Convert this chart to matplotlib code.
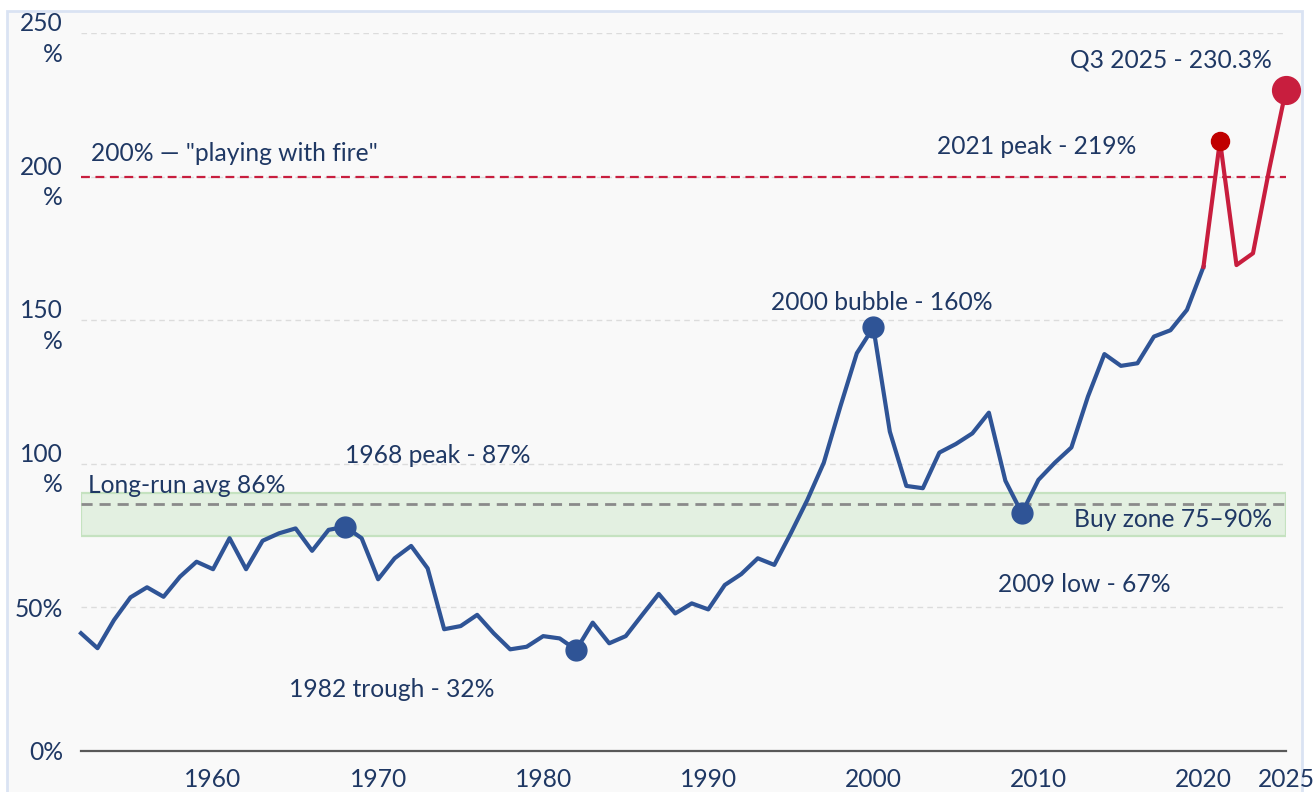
import matplotlib
matplotlib.use("Agg")
import matplotlib.pyplot as plt
from matplotlib.patches import Rectangle

plt.rcParams['font.family'] = ['Lato', 'DejaVu Sans']

years = list(range(1952, 2026))
ratio = [41.0, 35.8, 45.6, 53.5, 57.0, 53.7, 60.7, 65.9, 63.3, 74.1,
         63.3, 73.2, 75.8, 77.5, 69.7, 77.0, 78.1, 74.1, 59.8, 67.1,
         71.4, 63.6, 42.4, 43.5, 47.4, 41.0, 35.4, 36.3, 40.0, 39.2,
         35.2, 44.7, 37.5, 40.0, 47.4, 54.7, 47.9, 51.4, 49.3, 57.8,
         61.6, 67.1, 64.8, 75.8, 87.4, 100.4, 119.9, 138.5, 147.5, 111.2,
         92.3, 91.5, 103.9, 106.9, 110.6, 117.8, 94.1, 82.8, 94.4, 100.4,
         105.7, 123.4, 138.2, 134.1, 135.0, 144.3, 146.5, 153.6, 168.6, 212.5,
         169.2, 173.3, 203.0, 230.3]
split_year = 2020

yticks = [0, 50, 100, 150, 200, 250]
ytick_labels = ["0%", "50%", "100\n%", "150\n%", "200\n%", "250\n%"]
xticks = [1960, 1970, 1980, 1990, 2000, 2010, 2020, 2025]

danger_level = 200
long_run_avg = 86
buy_zone = (75, 90)

highlights = [(1968, "1968 peak - 87%"), (1982, "1982 trough - 32%"),
              (2000, "2000 bubble - 160%"), (2009, "2009 low - 67%")]

navy = "#1f3864"
blue = "#2f5496"
red = "#c81e3e"

fig = plt.figure(figsize=(13.16, 7.92), dpi=100)
fig.patch.set_facecolor("white")
panel = Rectangle((7/1316, -0.05), (1302-7)/1316, 1.05 - 11/792,
                  transform=fig.transFigure, facecolor="#f9f9f9",
                  edgecolor="#dae3f3", lw=2, zorder=-10)
fig.patches.append(panel)

ax = fig.add_axes([81/1316, 1-751/792, (1286-81)/1316, (751-33)/792])
ax.set_zorder(1)
ax.set_facecolor("none")
ax.set_xlim(1952, 2025)
ax.set_ylim(0, 250)

for s in ["top", "right", "left"]:
    ax.spines[s].set_visible(False)
ax.spines["bottom"].set_color("#595959")
ax.spines["bottom"].set_linewidth(1.6)

fs = 17.7
ax.set_yticks(yticks)
ax.set_yticklabels(ytick_labels, linespacing=1.4)
ax.set_xticks(xticks)
ax.set_xticklabels([str(x) for x in xticks])
ax.tick_params(axis="both", length=0, labelsize=fs, labelcolor=navy)
ax.tick_params(axis="y", pad=13)
ax.tick_params(axis="x", pad=12)
for lab in ax.get_yticklabels():
    lab.set_multialignment("right")

for yv in yticks[1:]:
    ax.axhline(yv, color="#dcdcdc", lw=1, ls=(0, (4, 3)), zorder=1)

ax.axhspan(buy_zone[0], buy_zone[1], facecolor="#e3f0e1", edgecolor="#c5e2c0",
           lw=1.6, zorder=1)
ax.axhline(long_run_avg, color="#8a8a8a", lw=2, ls=(0, (4, 2.5)), zorder=2)
ax.axhline(danger_level, color=red, lw=1.6, ls=(0, (4, 2.5)), zorder=2)

i = years.index(split_year)
ax.plot(years[:i+1], ratio[:i+1], color=blue, lw=3, zorder=3, clip_on=False)
ax.plot(years[i:], ratio[i:], color=red, lw=3, zorder=3, clip_on=False)

for yr, _ in highlights:
    ax.plot(yr, ratio[years.index(yr)], "o", color=blue, ms=15, zorder=4)
ax.plot(2021, ratio[years.index(2021)], "o", color="#c00000", ms=13, zorder=4)
ax.plot(2025, ratio[-1], "o", color=red, ms=20, zorder=4, clip_on=False)

ax.text(1952.6, 208, '200% \u2014 "playing with fire"', color=navy, fontsize=fs, va="center")
ax.text(1952.4, 92.5, "Long-run avg 86%", color=navy, fontsize=fs, va="center")
ax.text(2025 - 0.85, 80.5, "Buy zone 75\u201390%", color=navy, fontsize=fs, va="center", ha="right")
ax.text(1973.6, 103, "1968 peak - 87%", color=navy, fontsize=fs, va="center", ha="center")
ax.text(1970.8, 21.5, "1982 trough - 32%", color=navy, fontsize=fs, va="center", ha="center")
ax.text(2000.5, 156, "2000 bubble - 160%", color=navy, fontsize=fs, va="center", ha="center")
ax.text(2012.8, 58, "2009 low - 67%", color=navy, fontsize=fs, va="center", ha="center")
ax.text(2009.9, 210.6, "2021 peak - 219%", color=navy, fontsize=fs, va="center", ha="center")
ax.text(2018.0, 240.6, "Q3 2025 - 230.3%", color=navy, fontsize=fs, va="center", ha="center")

fig.savefig("out.png", dpi=100)
